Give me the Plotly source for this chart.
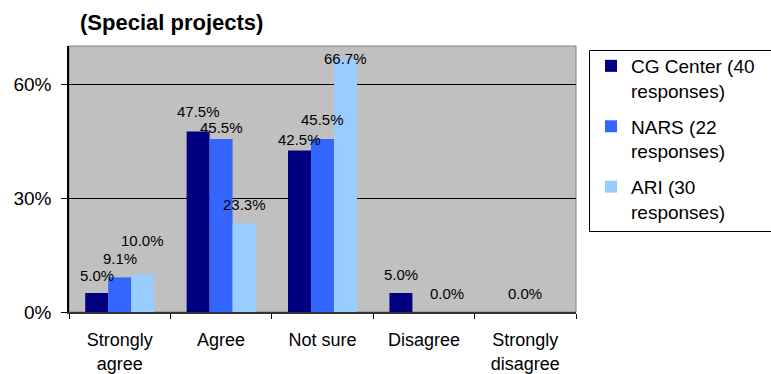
import plotly.graph_objects as go

categories = ["Strongly<br>agree", "Agree", "Not sure", "Disagree", "Strongly<br>disagree"]
series_names = ["CG Center (40<br>responses)", "NARS (22<br>responses)", "ARI (30<br>responses)"]
cg_center = [0.050, 0.475, 0.425, 0.050, None]
nars = [0.091, 0.455, 0.455, None, 0.000]
ari = [0.100, 0.233, 0.667, 0.000, None]
y_ticks = [0, 0.3, 0.6]
y_tick_labels = ["0%", "30%", "60%"]

series_values = [cg_center, nars, ari]
colors = ["#000080", "#3366FF", "#99CCFF"]
# label vertical offsets (px above bar top), manually placed as in the original
label_shift = [
    [18, 20, 11, 19, 0],
    [19, 12, 20, 0, 19],
    [34, 19, 0, 19, 0],
]
bar_px = 23  # approximate bar width in px for label offsets

FONT = "Liberation Sans, Arial, sans-serif"
W, H = 771, 374
ML, MR, MT, MB = 69, 195, 46, 62
PW, PH = W - ML - MR, H - MT - MB

fig = go.Figure()
for i, (name, vals, col) in enumerate(zip(series_names, series_values, colors)):
    fig.add_trace(go.Bar(x=categories, y=vals, name=name, legendgroup=f"g{i}",
                         marker=dict(color=col, line=dict(width=0))))

annotations = []
for si, vals in enumerate(series_values):
    for ci, v in enumerate(vals):
        if v is None:
            continue
        annotations.append(dict(
            x=categories[ci], y=v, xref="x", yref="y",
            text=f"{v*100:.1f}%", showarrow=False,
            xshift=(si - 1) * bar_px, yshift=label_shift[si][ci],
            yanchor="middle", xanchor="center",
            font=dict(family=FONT, size=15, color="#000000"),
        ))

def px_x(p):
    return (p - ML) / PW

def px_y(p):
    return (H - MB - p) / PH

shapes = [
    dict(type="rect", xref="paper", yref="paper", x0=0, x1=1, y0=0, y1=1,
         line=dict(color="#808080", width=1), fillcolor="rgba(0,0,0,0)", layer="below"),
    dict(type="rect", xref="paper", yref="paper", x0=px_x(589.5), x1=px_x(800), y0=px_y(231.5), y1=px_y(50.5),
         line=dict(color="#000000", width=1), fillcolor="rgba(0,0,0,0)", layer="below"),
]

fig.update_layout(
    width=W, height=H,
    margin=dict(l=ML, r=MR, t=MT, b=MB, pad=0, autoexpand=False),
    paper_bgcolor="#FFFFFF", plot_bgcolor="#C0C0C0",
    barmode="group", bargap=0.32, bargroupgap=0,
    font=dict(family=FONT, size=18, color="#000000"),
    title=dict(text="<b>(Special projects)</b>", x=80 / W, xref="container", xanchor="left",
               y=1 - 22 / H, yref="container", yanchor="middle",
               font=dict(family=FONT, size=22, color="#000000")),
    showlegend=True,
    legend=dict(x=px_x(591), y=px_y(47), xanchor="left", yanchor="top",
                bgcolor="rgba(0,0,0,0)", borderwidth=0, valign="top",
                font=dict(family=FONT, size=19, color="#000000"),
                tracegroupgap=8, traceorder="grouped"),
    annotations=annotations,
    shapes=shapes,
)
fig.update_xaxes(showline=True, linecolor="#333333", linewidth=1.5,
                 ticks="outside", tickson="boundaries", ticklen=5, tickcolor="#000000",
                 tickfont=dict(family=FONT, size=18), showgrid=False, ticklabelstandoff=11)
fig.update_yaxes(range=[0, 0.7], tickvals=y_ticks, ticktext=y_tick_labels,
                 showline=True, linecolor="#000000", linewidth=1.5,
                 ticks="outside", ticklen=6, tickcolor="#000000",
                 showgrid=True, gridcolor="#000000", gridwidth=1, zeroline=False,
                 tickfont=dict(family=FONT, size=19), ticklabelstandoff=6)

fig.write_html("out.html", config={"displayModeBar": False},
               post_script="document.body.style.margin='0px';")
